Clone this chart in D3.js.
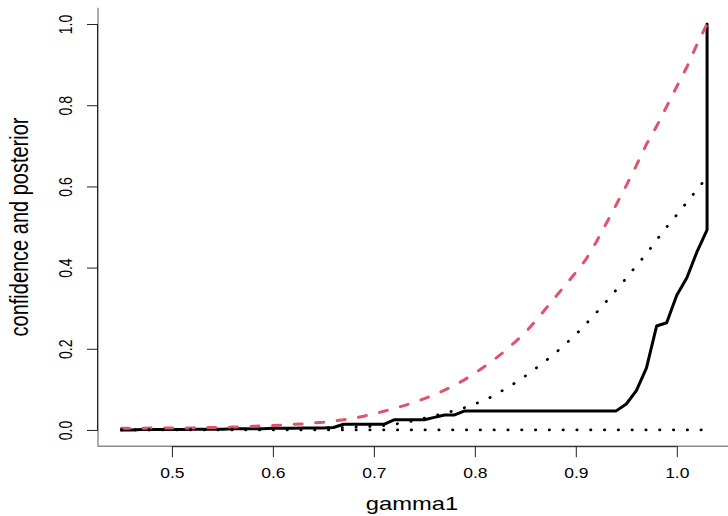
<!DOCTYPE html>
<html>
<head>
<meta charset="utf-8">
<script src="https://cdn.jsdelivr.net/npm/d3@7"></script>
<style>
  body { margin: 0; background: #ffffff; }
  text { font-family: "Liberation Sans", Arial, Helvetica, sans-serif; fill: #000; }
</style>
</head>
<body>
<div id="chart"></div>
<script>
// grid of gamma1 values
let gamma = [0.45, 0.46, 0.47, 0.48, 0.49, 0.50, 0.51, 0.52, 0.53, 0.54,
             0.55, 0.56, 0.57, 0.58, 0.59, 0.60, 0.61, 0.62, 0.63, 0.64,
             0.65, 0.66, 0.67, 0.68, 0.69, 0.70, 0.71, 0.72, 0.73, 0.74,
             0.75, 0.76, 0.77, 0.78, 0.79, 0.80, 0.81, 0.82, 0.83, 0.84,
             0.85, 0.86, 0.87, 0.88, 0.89, 0.90, 0.91, 0.92, 0.93, 0.94,
             0.95, 0.96, 0.97, 0.98, 0.99, 1.00, 1.01, 1.02, 1.03];

// red dashed curve
let dashedVals = [0.004, 0.004, 0.004, 0.005, 0.005, 0.005, 0.005, 0.005, 0.006, 0.006,
                  0.006, 0.007, 0.008, 0.009, 0.010, 0.011, 0.012, 0.014, 0.015, 0.017,
                  0.019, 0.022, 0.025, 0.029, 0.034, 0.040, 0.046, 0.053, 0.060, 0.068,
                  0.077, 0.087, 0.098, 0.110, 0.124, 0.140, 0.157, 0.175, 0.195, 0.217,
                  0.240, 0.268, 0.298, 0.328, 0.358, 0.388, 0.420, 0.462, 0.508, 0.555,
                  0.602, 0.652, 0.704, 0.748, 0.797, 0.846, 0.894, 0.950, 1.000];

// black dotted curve (upper)
let dottedVals = [0.000, 0.000, 0.000, 0.000, 0.001, 0.001, 0.001, 0.001, 0.001, 0.001,
                  0.001, 0.002, 0.002, 0.002, 0.002, 0.003, 0.003, 0.003, 0.004, 0.004,
                  0.005, 0.005, 0.006, 0.007, 0.008, 0.009, 0.011, 0.014, 0.018, 0.023,
                  0.029, 0.035, 0.041, 0.048, 0.055, 0.064, 0.074, 0.086, 0.101, 0.116,
                  0.133, 0.151, 0.170, 0.190, 0.212, 0.235, 0.261, 0.288, 0.316, 0.345,
                  0.374, 0.405, 0.434, 0.468, 0.500, 0.530, 0.561, 0.592, 0.623];

// black dotted curve at zero
let zeroVals = [0, 0, 0, 0, 0, 0, 0, 0, 0, 0,
                0, 0, 0, 0, 0, 0, 0, 0, 0, 0,
                0, 0, 0, 0, 0, 0, 0, 0, 0, 0,
                0, 0, 0, 0, 0, 0, 0, 0, 0, 0,
                0, 0, 0, 0, 0, 0, 0, 0, 0, 0,
                0, 0, 0, 0, 0, 0, 0, 0, 0];

// solid curve, it has one extra point: jumps up to 1 at the last gamma
let solidGamma = gamma.concat([1.03]);
let solidVals = [0.000, 0.000, 0.001, 0.001, 0.001, 0.001, 0.001, 0.002, 0.002, 0.002,
                 0.002, 0.003, 0.003, 0.003, 0.003, 0.004, 0.004, 0.004, 0.005, 0.005,
                 0.005, 0.006, 0.014, 0.014, 0.014, 0.014, 0.014, 0.025, 0.025, 0.025,
                 0.025, 0.031, 0.037, 0.037, 0.047, 0.047, 0.047, 0.047, 0.047, 0.047,
                 0.047, 0.047, 0.047, 0.047, 0.047, 0.047, 0.047, 0.047, 0.047, 0.047,
                 0.064, 0.097, 0.153, 0.256, 0.264, 0.332, 0.375, 0.439, 0.493, 1.000];

let xTicks = [0.5, 0.6, 0.7, 0.8, 0.9, 1.0];
let yTicks = [0.0, 0.2, 0.4, 0.6, 0.8, 1.0];

var width = 728, height = 516;
var stretch = 1.25;   // text in the picture is wider than tall

var svg = d3.select("#chart").append("svg")
    .attr("width", width)
    .attr("height", height);

// R style 4% extension of the data range
var xScale = d3.scaleLinear()
    .domain([0.45 - 0.0232, 1.03 + 0.0232])
    .range([98, 730.5]);

var yScale = d3.scaleLinear()
    .domain([-0.04, 1.04])
    .range([446.2, 7.8]);

// L shaped frame
svg.append("path")
    .attr("d", "M" + xScale.range()[0] + "," + yScale.range()[1] +
               "V" + yScale.range()[0] + "H" + xScale.range()[1])
    .attr("fill", "none")
    .attr("stroke", "#8a8a8a")
    .attr("stroke-width", 1.4);

// x axis
var xAxis = svg.append("g")
    .attr("transform", "translate(0," + yScale.range()[0] + ")")
    .call(d3.axisBottom(xScale).tickValues(xTicks).tickSize(11).tickSizeOuter(0)
          .tickFormat(d3.format(".1f")));
xAxis.select(".domain")
    .attr("d", "M" + xScale(xTicks[0]) + ",0.5H" + xScale(xTicks[xTicks.length - 1]))
    .attr("stroke", "#222");
xAxis.selectAll(".tick line").attr("stroke", "#222");
xAxis.selectAll(".tick text")
    .attr("y", 0).attr("dy", 0)
    .attr("font-size", 14)
    .attr("transform", function() {
        return "translate(0,32) scale(" + stretch + ",1)";
    });

// y axis
var yAxis = svg.append("g")
    .attr("transform", "translate(" + xScale.range()[0] + ",0)")
    .call(d3.axisLeft(yScale).tickValues(yTicks).tickSize(11).tickSizeOuter(0)
          .tickFormat(d3.format(".1f")));
yAxis.select(".domain")
    .attr("d", "M-0.5," + yScale(yTicks[0]) + "V" + yScale(yTicks[yTicks.length - 1]))
    .attr("stroke", "#222");
yAxis.selectAll(".tick line").attr("stroke", "#222");
yAxis.selectAll(".tick text")
    .attr("x", 0).attr("dy", 0)
    .attr("text-anchor", "middle")
    .attr("font-size", 14)
    .attr("transform", "translate(-26.5,0) scale(" + stretch + ",1) rotate(-90)");

// axis titles
svg.append("text")
    .attr("text-anchor", "middle")
    .attr("font-size", 19)
    .attr("transform", "translate(412,510) scale(" + stretch + ",1)")
    .text("gamma1");

svg.append("text")
    .attr("text-anchor", "middle")
    .attr("font-size", 20)
    .attr("transform", "translate(28,227) scale(" + stretch + ",1) rotate(-90)")
    .text("confidence and posterior");

var line = d3.line()
    .x(function(d) { return xScale(d.x); })
    .y(function(d) { return yScale(d.y); });

function pairs(xs, ys) {
    var out = [];
    for (let i = 0; i < ys.length; i++) {
        out.push({x: xs[i], y: ys[i]});
    }
    return out;
}

// solid
svg.append("path")
    .datum(pairs(solidGamma, solidVals))
    .attr("fill", "none")
    .attr("stroke", "#000")
    .attr("stroke-width", 3)
    .attr("stroke-linejoin", "round")
    .attr("stroke-linecap", "round")
    .attr("d", line);

// red dashed
svg.append("path")
    .datum(pairs(gamma, dashedVals))
    .attr("fill", "none")
    .attr("stroke", "#DF536B")
    .attr("stroke-width", 3)
    .attr("stroke-linecap", "round")
    .attr("stroke-dasharray", "8,13.6")
    .attr("d", line);

// dotted ones
[dottedVals, zeroVals].forEach(function(vals) {
    svg.append("path")
        .datum(pairs(gamma, vals))
        .attr("fill", "none")
        .attr("stroke", "#000")
        .attr("stroke-width", 2.8)
        .attr("stroke-linecap", "round")
        .attr("stroke-dasharray", "0.3,13.5")
        .attr("d", line);
});
</script>
</body>
</html>
